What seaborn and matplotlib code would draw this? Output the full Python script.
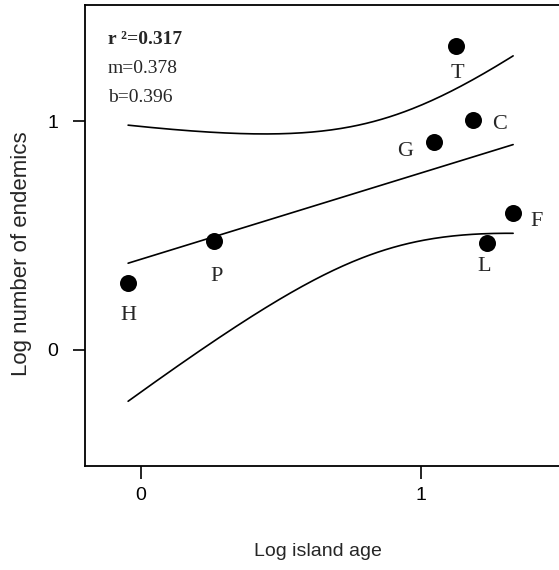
import numpy as np
import pandas as pd
import matplotlib
matplotlib.use('Agg')
import matplotlib.pyplot as plt
import seaborn as sns

# island data (log scale)
islands = ['H', 'P', 'G', 'C', 'T', 'F', 'L']
log_age = [-0.046, 0.26, 1.046, 1.186, 1.125, 1.329, 1.236]
log_endemics = [0.294, 0.474, 0.908, 1.004, 1.33, 0.60, 0.469]

# regression stats printed on the chart
r2 = 0.317
slope = 0.378
intercept = 0.396

# label offsets from each dot, in pixels (dx, dy)
label_offsets = {'H': (0, -33), 'P': (3, -35), 'G': (-29, -9), 'C': (26, -4),
                 'T': (1, -27), 'F': (23, -9), 'L': (-3, -24)}

sns.set_style('ticks')
plt.rcParams['font.family'] = ['Liberation Sans', 'DejaVu Sans']

df = pd.DataFrame({'island': islands, 'age': log_age, 'endemics': log_endemics})

fig = plt.figure(figsize=(5.59, 5.70), dpi=100)
ax = fig.add_axes([85 / 559, 104 / 570, 476 / 559, 461 / 570])

# fitted line and confidence band
x = df['age'].values
y = df['endemics'].values
n = len(x)
xs = np.linspace(x.min(), x.max(), 200)
yhat = intercept + slope * xs
resid = y - (intercept + slope * x)
s = np.sqrt((resid ** 2).sum() / (n - 2))
sxx = ((x - x.mean()) ** 2).sum()
t_crit = 2.3
hw = t_crit * s * np.sqrt(1 / n + (xs - x.mean()) ** 2 / sxx)

for yy in [yhat, yhat + hw, yhat - hw]:
    sns.lineplot(x=xs, y=yy, color='black', linewidth=1.2, sort=False,
                 estimator=None, ax=ax)

sns.scatterplot(data=df, x='age', y='endemics', s=150, color='black',
                edgecolor='black', linewidth=0, ax=ax, zorder=3)

for _, row in df.iterrows():
    dx, dy = label_offsets[row['island']]
    ax.annotate(row['island'], (row['age'], row['endemics']),
                xytext=(dx * 0.72, dy * 0.72), textcoords='offset points',
                ha='center', va='center', fontsize=16,
                family='Liberation Serif')

ax.text(0.048, 0.925, 'r \u00b2=%.3f' % r2, transform=ax.transAxes,
        fontsize=14, family='Liberation Serif', fontweight='bold', va='center')
ax.text(0.048, 0.862, 'm=%.3f' % slope, transform=ax.transAxes,
        fontsize=14, family='Liberation Serif', va='center')
ax.text(0.048, 0.800, 'b=%.3f' % intercept, transform=ax.transAxes,
        fontsize=14, family='Liberation Serif', va='center')

ax.set_xlim(-0.2, 1.5)
ax.set_ylim(-0.51, 1.51)
ax.set_xticks([0, 1])
ax.set_yticks([0, 1])
ax.tick_params(axis='both', direction='out', length=9, width=1.2,
               labelsize=14, colors='black')
ax.tick_params(axis='x', pad=6)
ax.tick_params(axis='y', pad=10)
for sp in ax.spines.values():
    sp.set_linewidth(1.3)
    sp.set_color('black')

ax.set_xlabel('Log island age', fontsize=14)
ax.set_ylabel('Log number of endemics', fontsize=16)
ax.xaxis.set_label_coords(0.49, -0.168)
ax.yaxis.set_label_coords(-0.112, 0.46)

fig.savefig('out.png', dpi=100)
